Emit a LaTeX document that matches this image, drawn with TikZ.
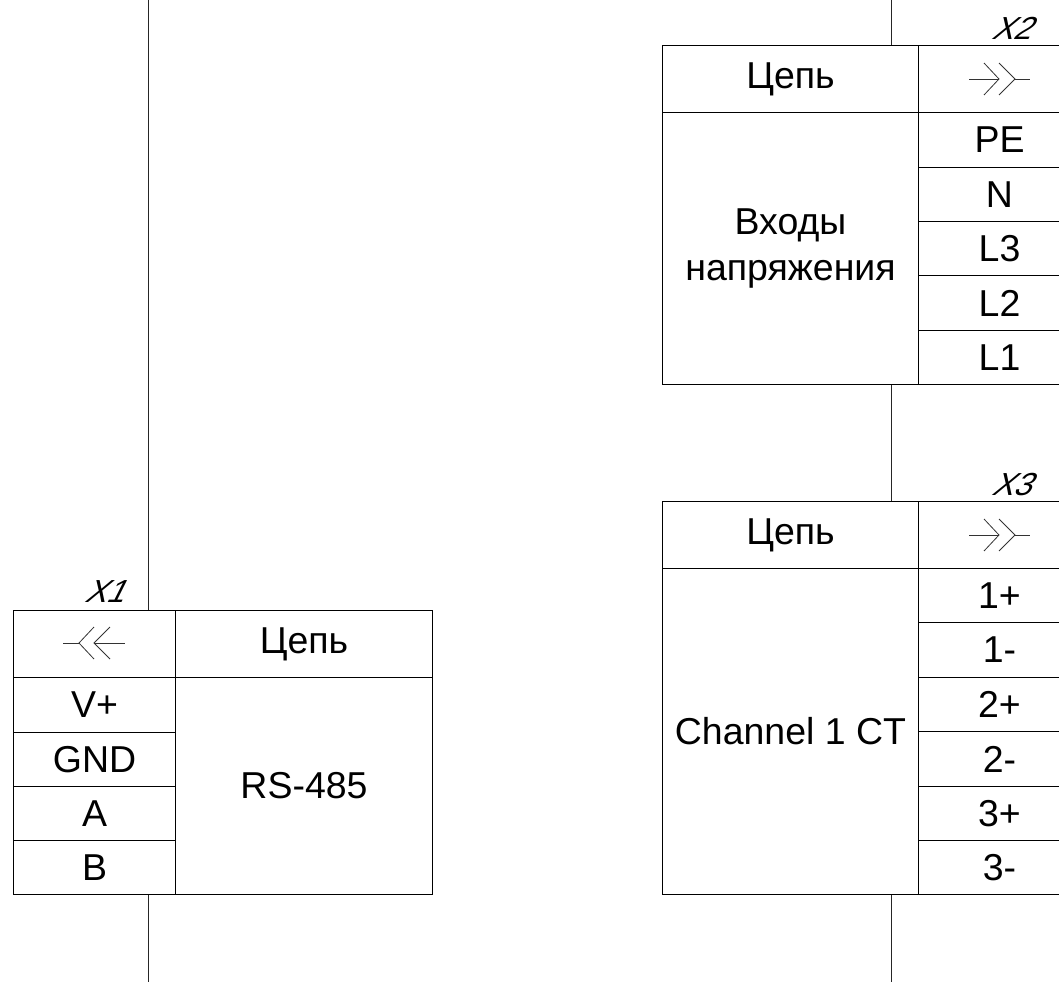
\documentclass[tikz,border=0pt]{standalone}
\usepackage{fontspec}
\setmainfont{Liberation Sans}
\newfontfamily\tagfont[FakeSlant=0.5,FakeStretch=1.0]{Liberation Sans}
\usetikzlibrary{calc}
\newcommand{\cellat}[7]{% name, x1, y1, x2, y2, extra, text
  \node[cellbox,#6,minimum width={(#4-#2)*1bp},minimum height={(#5-#3)*1bp},anchor=north west] (#1) at (#2,-#3) {#7};}
\newcommand{\plugright}[2]{% x of left end of line, y centre
  \draw[symline] (#1,-#2) -- ++(30,0);
  \draw[symline] (#1+15,-#2+16) -- ++(15,-16) -- ++(-15,-16);
  \draw[symline] (#1+30,-#2+16) -- ++(16,-16) -- ++(-16,-16);
  \draw[symline] (#1+46,-#2) -- ++(15,0);}
\newcommand{\plugleft}[2]{%
  \draw[symline] (#1-31,-#2) -- ++(16,0);
  \draw[symline] (#1,-#2+16) -- ++(-15,-16) -- ++(15,-16);
  \draw[symline] (#1+16,-#2+16) -- ++(-16,-16) -- ++(16,-16);
  \draw[symline] (#1,-#2) -- ++(31,0);}
\tikzset{
  cellbox/.style={draw=black,line width=1bp,inner sep=0pt,font=\fontsize{37.6}{45.7}\selectfont,align=center,text=black},
  wire/.style={draw=black!85,line width=0.9bp},
  symline/.style={draw=black!80,line width=0.8bp},
  tagtext/.style={font=\tagfont\fontsize{32}{33}\selectfont,inner sep=0pt,text=black}
}
\begin{document}
\begin{tikzpicture}[x=1bp,y=1bp]
\clip (0,0) rectangle (1059,-982);
% X1
\cellat{xa}{13}{610}{175}{677}{}{}
\cellat{xb}{175}{610}{432}{677}{}{Цепь}
\cellat{xc}{13}{677}{175}{732}{}{V+}
\cellat{xd}{13}{732}{175}{786}{}{GND}
\cellat{xe}{13}{786}{175}{840}{}{A}
\cellat{xf}{13}{840}{175}{894}{}{B}
\cellat{xg}{175}{677}{432}{894}{}{RS-485}
\plugleft{94}{643}
\node[tagtext] (tagone) at (103.5,-592) {X1};
\coordinate (ta) at (148,0);
\coordinate (ba) at (148,-982);
\draw[wire] (ta) -- (ta |- xa.north);
\draw[wire] (xf.south -| ba) -- (ba);
% X2
\cellat{ya}{662}{45}{918}{112}{}{Цепь}
\cellat{yb}{918}{45}{1080}{112}{}{}
\cellat{yc}{662}{112}{918}{384}{}{Входы\\напряжения}
\cellat{yd}{918}{112}{1080}{167}{}{PE}
\cellat{ye}{918}{167}{1080}{221}{}{N}
\cellat{yf}{918}{221}{1080}{275}{}{L3}
\cellat{yg}{918}{275}{1080}{330}{}{L2}
\cellat{yh}{918}{330}{1080}{384}{}{L1}
\plugright{969}{79}
\node[tagtext] (tagtwo) at (1010.5,-28.5) {X2};
\coordinate (tb) at (891,0);
\draw[wire] (tb) -- (tb |- ya.north);
% X3
\cellat{za}{662}{501}{918}{568}{}{Цепь}
\cellat{zb}{918}{501}{1080}{568}{}{}
\cellat{zc}{662}{568}{918}{894}{}{Channel 1 CT}
\cellat{zd}{918}{568}{1080}{622}{}{1+}
\cellat{ze}{918}{622}{1080}{677}{}{1-}
\cellat{zf}{918}{677}{1080}{731}{}{2+}
\cellat{zg}{918}{731}{1080}{786}{}{2-}
\cellat{zh}{918}{786}{1080}{840}{}{3+}
\cellat{zi}{918}{840}{1080}{894}{}{3-}
\plugright{969}{535}
\node[tagtext] (tagthree) at (1010.5,-484.5) {X3};
\coordinate (bb) at (891,-982);
\draw[wire] (tb |- yc.south) -- (tb |- za.north);
\draw[wire] (zc.south -| bb) -- (bb);
\end{tikzpicture}
\end{document}
